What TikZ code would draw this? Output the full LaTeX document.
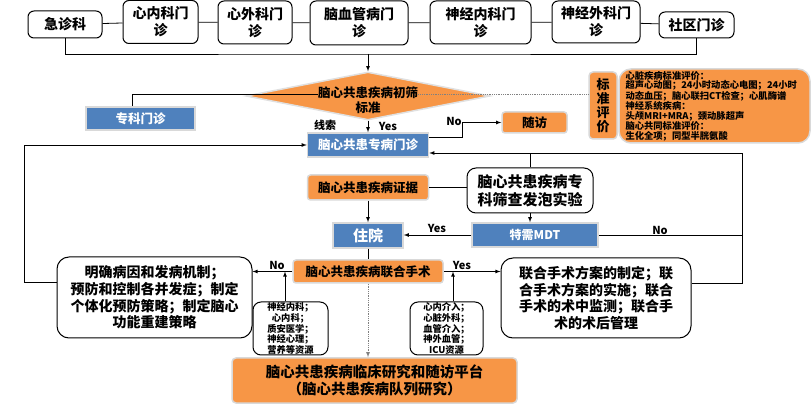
\documentclass[tikz,border=0pt]{standalone}
\usepackage{fontspec}
\setmainfont{Noto Sans CJK SC}
\usetikzlibrary{shapes.geometric}
\definecolor{corange}{HTML}{F79646}
\definecolor{cblue}{HTML}{4F81BD}
\tikzset{
  arr/.style={->, >=latex},
  topbox/.style={draw, line width=1pt, rounded corners=6pt, fill=white, align=center, inner sep=0pt, font=\bfseries\fontsize{14}{17}\selectfont},
  bluebox/.style={fill=cblue, draw=black!15, line width=1.5pt, text=white, inner sep=0pt, font=\bfseries\fontsize{12.5}{15}\selectfont},
  obox/.style={fill=corange, draw=black!15, line width=1.5pt, inner sep=0pt, align=center, font=\bfseries\fontsize{12.5}{15}\selectfont},
  wbox/.style={draw, line width=1pt, fill=white, rounded corners=12pt, inner sep=0pt, align=center, font=\bfseries\fontsize{14}{16.7}\selectfont},
  rbox/.style={draw, line width=1pt, fill=white, rounded corners=8pt, inner sep=0pt, align=center, font=\bfseries\fontsize{9.3}{8.6}\selectfont},
  lbl/.style={inner sep=0pt, font=\bfseries\fontsize{11}{12}\selectfont},
}
\begin{document}
\begin{tikzpicture}[x=1pt,y=-1pt,line width=0.8pt]
\useasboundingbox (0,0) rectangle (811,411);

% clinics on top
\node[topbox, minimum width=74, minimum height=27] (jz) at (65,24.5) {急诊科};
\node[topbox, minimum width=75, minimum height=43] (xn) at (160.5,22) {心内科门\\诊};
\node[topbox, minimum width=74, minimum height=43] (xw) at (255,22.5) {心外科门\\诊};
\node[topbox, minimum width=98, minimum height=44] (ng) at (359,23) {脑血管病门\\诊};
\node[topbox, minimum width=101, minimum height=43] (sn) at (480.5,22.5) {神经内科门\\诊};
\node[topbox, minimum width=88, minimum height=42] (sw) at (596,22) {神经外科门\\诊};
\node[topbox, minimum width=75, minimum height=26] (sq) at (696.5,25) {社区门诊};
\draw (jz) -- (xn) -- (xw) -- (ng) -- (sn) -- (sw) -- (sq);

\coordinate (bus) at (368,54);
\draw (jz.south) |- (bus) -| (sq.south);

% screening
\node[diamond, fill=corange, draw=black!12, line width=1.5pt, minimum width=244, minimum height=48, inner sep=0pt] (dm) at (368,96) {};
\node[lbl, align=center, font=\bfseries\fontsize{12.5}{15}\selectfont] (dmt) at (368,100) {脑心共患疾病初筛\\标准};
\draw[arr] (bus) -- (dm.north);

\node[bluebox, minimum width=109, minimum height=23] (zk) at (140.5,118.5) {专科门诊};
\draw ([xshift=-8pt]zk.north) |- ([yshift=6pt]dmt.west);

\node[obox, rounded corners=4pt, minimum width=28, minimum height=67, font=\bfseries\fontsize{13}{14}\selectfont] (pjl) at (603,105.5) {标\\准\\评\\价};
\node[obox, rounded corners=12pt, minimum width=191, minimum height=74, text width=178, align=left, font=\bfseries\fontsize{9.3}{9.3}\selectfont] (pjr) at (714.5,106) {心脏疾病标准评价：\\超声心动图；24小时动态心电图；24小时\\动态血压；脑心联扫CT检查；心肌酶谱\\神经系统疾病：\\头颅MRI+MRA；颈动脉超声\\脑心共同标准评价：\\生化全项；同型半胱氨酸};
\draw[densely dotted, gray] ([yshift=6pt]dmt.east) -- ([yshift=6pt]dmt.east -| pjl.west);

\node[bluebox, minimum width=121, minimum height=24] (zb) at (368,145) {脑心共患专病门诊};
\draw[arr] (dm.south) -- (zb.north);
\node[lbl] (xs) at (325,125) {线索};
\node[lbl] (y1) at (388,126) {Yes};

\node[obox, rounded corners=3pt, minimum width=65, minimum height=21] (sf) at (534.5,122.5) {随访};
\draw[arr] ([yshift=8pt]zb.east) -- ++(33,0) |- (sf.west);
\node[lbl] (n1) at (454,121) {No};

% evidence and MDT
\node[obox, rounded corners=3pt, minimum width=121, minimum height=25] (zj) at (368,187.5) {脑心共患疾病证据};
\node[wbox, rounded corners=9pt, minimum width=126, minimum height=45, font=\bfseries\fontsize{15}{18}\selectfont] (sc) at (530,190.5) {脑心共患疾病专\\科筛查发泡实验};
\draw (zj.east) -- (zj.east -| sc.west);

\node[bluebox, minimum width=70, minimum height=25, font=\bfseries\fontsize{15}{17}\selectfont] (zy) at (368,235.5) {住院};
\node[bluebox, minimum width=126, minimum height=24, font=\bfseries\fontsize{12}{14}\selectfont] (md) at (535,235) {特需MDT};
\draw[arr] (zj.south) -- (zy.north);
\draw[arr] (sc.south) -- (sc.south |- md.north);
\draw[arr] (md.west) -- (md.west -| zy.east);
\node[lbl] (y2) at (437,228) {Yes};

% joint surgery
\node[obox, rounded corners=3pt, minimum width=150, minimum height=23] (lh) at (368,271.5) {脑心共患疾病联合手术};
\draw (zy.south) -- (lh.north);

\node[wbox, minimum width=195, minimum height=81] (mq) at (154.5,297.5) {明确病因和发病机制；\\预防和控制各并发症；制定\\个体化预防策略；制定脑心\\功能重建策略};
\node[wbox, minimum width=190, minimum height=80] (fa) at (596,298) {联合手术方案的制定；联\\合手术方案的实施；联合\\手术的术中监测；联合手\\术的术后管理};
\draw[arr] (lh.west) -- (lh.west -| mq.east);
\node[lbl] (n2) at (277,265) {No};
\draw[arr] (lh.east) -- (lh.east -| fa.west);
\node[lbl] (y3) at (462,265) {Yes};

\node[rbox, minimum width=75, minimum height=53] (rl) at (290.5,328.5) {神经内科；\\心内科；\\质安医学；\\神经心理；\\营养等资源};
\node[rbox, minimum width=73, minimum height=53] (rr) at (446.5,328.5) {心内介入；\\心脏外科；\\血管介入；\\神外血管；\\ICU资源};
\draw[arr] ([xshift=-5.5pt]rl.north) -- ([xshift=-5.5pt]rl.north |- lh.west);
\draw[arr] ([xshift=6.5pt]rr.north) -- ([xshift=6.5pt]rr.north |- lh.east);

\node[obox, rounded corners=4pt, minimum width=285, minimum height=45, font=\bfseries\fontsize{14.5}{17}\selectfont] (rs) at (374.5,380.5) {脑心共患疾病临床研究和随访平台\\（脑心共患疾病队列研究）};
\draw[arr, densely dotted, gray] (lh.south) -- (lh.south |- rs.north);

% loops back
\draw[arr] ([yshift=15pt]mq.west) -- ++(-32,0) |- (zb.west);
\coordinate (rt) at (742,153);
\draw (md.east) -- (md.east -| rt);
\draw[arr] ([yshift=15pt]fa.east) -| (rt) -- (rt -| zb.east);
\draw (sc.north) -- (sc.north |- rt);
\node[lbl] (n3) at (660,230) {No};

\end{tikzpicture}
\end{document}
